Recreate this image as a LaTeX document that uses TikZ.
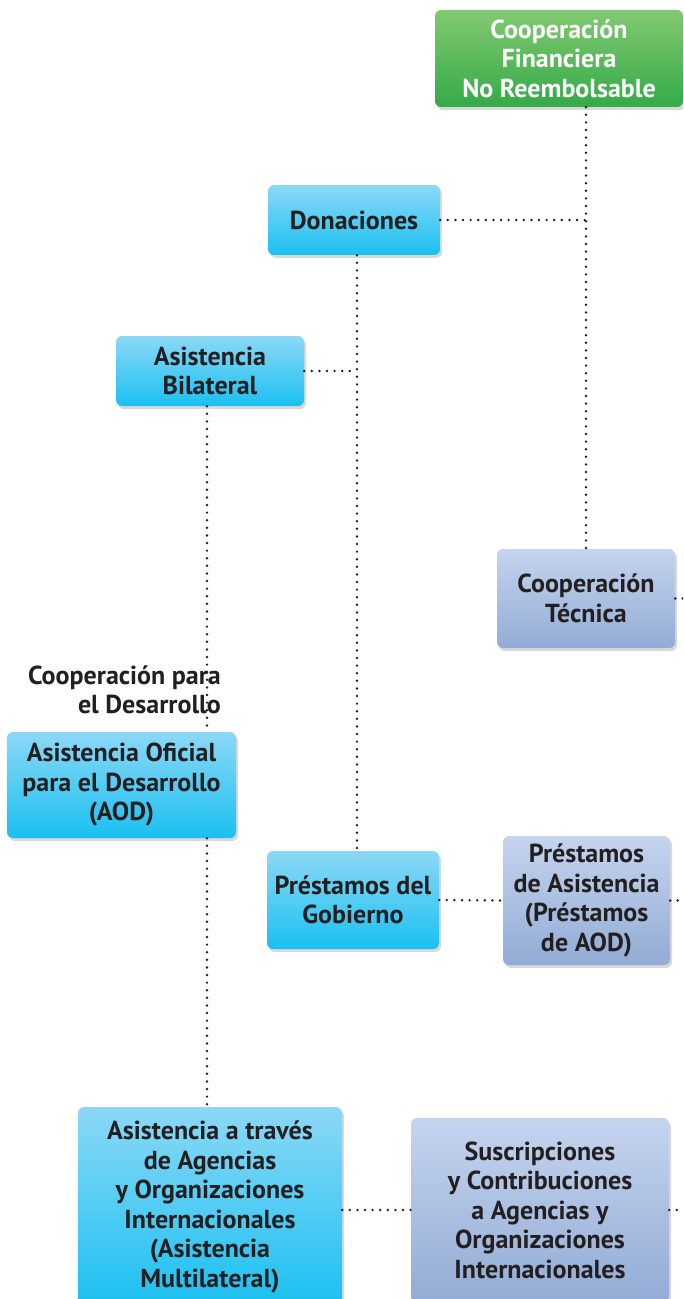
\documentclass[tikz,border=0pt]{standalone}
\usepackage{fontspec}
\setmainfont{PT Sans}
\usetikzlibrary{shadows}
\definecolor{ink}{RGB}{35,31,32}
\definecolor{greentop}{RGB}{130,201,112}
\definecolor{greenbot}{RGB}{52,170,72}
\definecolor{bluetop}{RGB}{140,216,246}
\definecolor{bluebot}{RGB}{26,192,241}
\definecolor{lilactop}{RGB}{196,212,238}
\definecolor{lilacbot}{RGB}{147,172,213}
\tikzset{
    box/.style = {
        rounded corners=6bp,
        align=center,
        inner sep=0pt,
        text=ink,
        font=\fontsize{26bp}{29.5bp}\selectfont\bfseries,
        drop shadow={opacity=0.3, shadow xshift=2bp, shadow yshift=-3bp},
        },
    green box/.style = {
        box,
        top color=greentop,
        bottom color=greenbot,
        text=white,
        },
    blue box/.style = {
        box,
        top color=bluetop,
        bottom color=bluebot,
        },
    lilac box/.style = {
        box,
        top color=lilactop,
        bottom color=lilacbot,
        },
    link/.style = {
        draw=ink,
        line width=2.7bp,
        line cap=round,
        dash pattern=on 0pt off 7.6bp,
        },
    caption/.style = {
        align=right,
        inner sep=0pt,
        text=ink,
        font=\fontsize{26bp}{29.5bp}\selectfont\bfseries,
        },
}
\begin{document}
\begin{tikzpicture}[x=1bp,y=-1bp]
            \useasboundingbox[fill=white] (0,0) rectangle (683,1299);
            \clip (0,0) rectangle (683,1299);
            \coordinate (edge) at (683,0);

            \node[green box, minimum width=248bp, minimum height=97bp] (CFNR) at (559,58.5) {Cooperación\\Financiera\\No Reembolsable};
            \node[blue box, minimum width=172bp, minimum height=70bp] (Don) at (354,220) {Donaciones};
            \node[blue box, minimum width=188bp, minimum height=70bp] (Bil) at (210,371) {Asistencia\\Bilateral};
            \node[lilac box, minimum width=178bp, minimum height=99bp] (CT) at (586,598.5) {Cooperación\\Técnica};
            \node[caption, anchor=east] (CD) at (221,690) {Cooperación para\\el Desarrollo};
            \node[blue box, minimum width=229bp, minimum height=106bp] (AOD) at (121.5,785) {Asistencia Oficial\\para el Desarrollo\\(AOD)};
            \node[blue box, minimum width=172bp, minimum height=98bp] (PG) at (353,900) {Préstamos del\\Gobierno};
            \node[lilac box, minimum width=167bp, minimum height=129bp] (PA) at (586.5,900.5) {Préstamos\\de Asistencia\\(Préstamos\\de AOD)};
            \node[blue box, minimum width=264bp, minimum height=200bp] (Mul) at (210,1207) {Asistencia a través\\de Agencias\\y Organizaciones\\Internacionales\\(Asistencia\\Multilateral)};
            \node[lilac box, minimum width=258bp, minimum height=184bp] (Sus) at (540,1210) {Suscripciones\\y Contribuciones\\a Agencias y\\Organizaciones\\Internacionales};

            \path[link] (CFNR.south -| CT) -- (CT.north);
            \path[link] (Don.east) -- (Don.east -| CT);
            \path[link] ([xshift=3bp]Don.south) -- ([xshift=4bp]PG.north);
            \path[link] (Bil.east) -- ([xshift=3bp]Bil.east -| Don.south);
            \path[link] ([xshift=-3bp]Bil.south) -- ([xshift=-3bp]Bil.south |- AOD.north);
            \path[link] ([xshift=-3bp]AOD.south -| Bil) -- ([xshift=-3bp]Mul.north);
            \path[link] (PG.east) -- (PA.west);
            \path[link] (Mul.east |- Sus) -- (Sus.west);
            \path[link] (CT.east) -- (CT.east -| edge);
            \path[link] (PA.east) -- (PA.east -| edge);
            \path[link] (Sus.east) -- (Sus.east -| edge);
        \end{tikzpicture}
\end{document}
